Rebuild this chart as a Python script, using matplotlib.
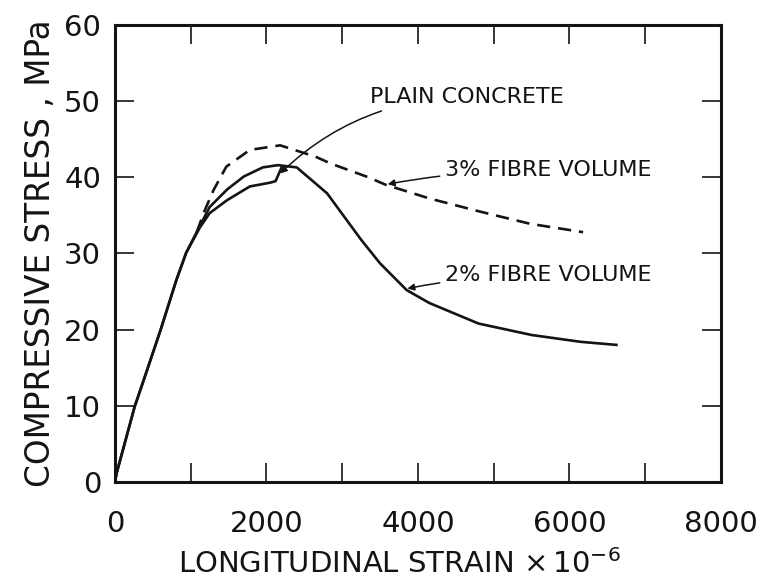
import matplotlib
matplotlib.use('Agg')
from matplotlib import pyplot as plt

# strain values (x 10^-6) and compressive stress (MPa)
strain_2pct = [0, 20, 260, 380, 600, 810, 940, 1120, 1250, 1480, 1700, 1950, 2150,
               2400, 2800, 3250, 3500, 3850, 4150, 4800, 5500, 6150, 6620]
stress_2pct = [0, 1.1, 9.9, 13.4, 19.9, 26.5, 30.1, 33.6, 36.1, 38.4, 40.1, 41.3, 41.6,
               41.3, 37.9, 31.8, 28.7, 25.2, 23.5, 20.8, 19.3, 18.4, 18.0]

strain_plain = [0, 20, 260, 380, 600, 810, 940, 1120, 1250, 1480, 1780, 2050, 2120, 2200]
stress_plain = [0, 1.1, 9.9, 13.4, 19.9, 26.5, 30.1, 33.4, 35.3, 37.0, 38.8, 39.3, 39.5, 41.3]

strain_3pct = [1080, 1170, 1300, 1470, 1780, 2180, 2650, 2850, 3320, 3580,
               4160, 4820, 5480, 6180]
stress_3pct = [32.8, 35.3, 38.3, 41.4, 43.6, 44.2, 42.7, 41.8, 40.1, 39.0,
               37.2, 35.5, 33.9, 32.8]

x_ticks = [0, 1000, 2000, 3000, 4000, 5000, 6000, 7000, 8000]
x_labels = ['0', '', '2000', '', '4000', '', '6000', '', '8000']
y_ticks = [0, 10, 20, 30, 40, 50, 60]
y_labels = ['0', '10', '20', '30', '40', '50', '60']

ink = '#141414'

fig = plt.figure(figsize=(7.66, 5.81), dpi=100)
ax = fig.add_axes([0.1501, 0.1704, 0.7911, 0.7866])

ax.plot(strain_2pct, stress_2pct, '-', color=ink, lw=1.9)
ax.plot(strain_plain, stress_plain, '-', color=ink, lw=1.9)
ax.plot(strain_3pct, stress_3pct, '--', color=ink, lw=1.9, dashes=(5, 3))

ax.set_xlim(0, 8000)
ax.set_ylim(0, 60)
ax.set_xticks(x_ticks)
ax.set_xticklabels(x_labels)
ax.set_yticks(y_ticks)
ax.set_yticklabels(y_labels)

for s in ax.spines.values():
    s.set_linewidth(2.2)
    s.set_color(ink)

ax.tick_params(axis='both', direction='in', length=13.5, width=1.2, color=ink,
               labelsize=21, labelcolor=ink, top=True, right=True)
ax.tick_params(axis='x', pad=20)
ax.tick_params(axis='y', pad=10)

ax.set_xlabel('LONGITUDINAL STRAIN $\\times\\,$10$^{-6}$', fontsize=21, color=ink)
ax.xaxis.set_label_coords(0.47, -0.147)
ax.set_ylabel('COMPRESSIVE STRESS , MPa', fontsize=23.5, color=ink, labelpad=5)

arrow = dict(arrowstyle='-|>', color=ink, lw=1.1, mutation_scale=10, shrinkA=2, shrinkB=0)

ax.annotate('PLAIN CONCRETE', xy=(2180, 40.5), xytext=(3370, 50.5),
            fontsize=16, color=ink, ha='left', va='center',
            arrowprops=dict(arrow, connectionstyle='arc3,rad=0.2'))
ax.annotate('3% FIBRE VOLUME', xy=(3600, 39.1), xytext=(4360, 40.9),
            fontsize=16, color=ink, ha='left', va='center',
            arrowprops=dict(arrow, connectionstyle='arc3,rad=0.05'))
ax.annotate('2% FIBRE VOLUME', xy=(3860, 25.4), xytext=(4360, 27.2),
            fontsize=16, color=ink, ha='left', va='center',
            arrowprops=dict(arrow, connectionstyle='arc3,rad=0.05'))

fig.savefig('out.png', dpi=100)
